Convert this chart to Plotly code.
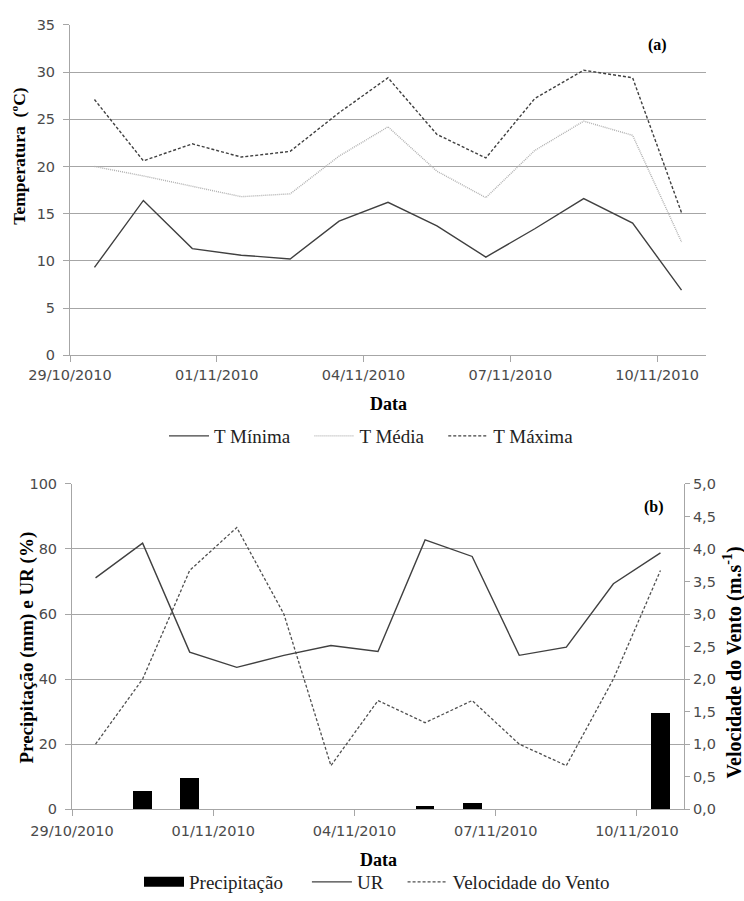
import plotly.graph_objects as go

W, H = 744, 901

# Daily observations, 29/10/2010 to 10/11/2010
dates = ["2010-10-29", "2010-10-30", "2010-10-31", "2010-11-01", "2010-11-02",
         "2010-11-03", "2010-11-04", "2010-11-05", "2010-11-06", "2010-11-07",
         "2010-11-08", "2010-11-09", "2010-11-10"]
t_min = [9.3, 16.4, 11.3, 10.6, 10.2, 14.2, 16.2, 13.7, 10.4, 13.4, 16.6, 14.0, 6.9]
t_med = [20.0, 19.0, 17.9, 16.8, 17.1, 21.1, 24.2, 19.5, 16.7, 21.7, 24.8, 23.3, 12.0]
t_max = [27.1, 20.6, 22.4, 21.0, 21.6, 25.7, 29.4, 23.4, 20.9, 27.2, 30.2, 29.4, 15.1]
precip = [0, 5.5, 9.6, 0, 0, 0, 0, 0.9, 2.0, 0, 0, 0, 29.7]
ur = [71.1, 81.8, 48.3, 43.6, 47.3, 50.3, 48.5, 82.8, 77.7, 47.3, 49.8, 69.3, 78.8]
wind = [1.0, 2.0, 3.67, 4.33, 3.0, 0.67, 1.67, 1.33, 1.67, 1.0, 0.67, 2.0, 3.67]

tick_dates = ["2010-10-29", "2010-11-01", "2010-11-04", "2010-11-07", "2010-11-10"]
x_range = ["2010-10-29", "2010-11-11"]

DAY_MS = 86400000
SERIF = "Liberation Serif"
SANS = "DejaVu Sans"
GRID = "#a6a6a6"
DARK = "#404040"
GAP = "\u00a0\u00a0\u00a0"   # extra room after each legend entry


def px_x(p):
    return p / W


def px_y(p):
    return 1 - p / H


period = dict(xperiod=DAY_MS, xperiodalignment="middle")

fig = go.Figure()

# (a) temperatures
fig.add_trace(go.Scatter(x=dates, y=t_min, name="T Mínima" + GAP, mode="lines",
                         line=dict(color=DARK, width=1.4),
                         xaxis="x", yaxis="y", legend="legend", **period))
fig.add_trace(go.Scatter(x=dates, y=t_med, name="T Média" + GAP, mode="lines",
                         line=dict(color="#b0b0b0", width=1.4, dash="1px,1px"),
                         xaxis="x", yaxis="y", legend="legend", **period))
fig.add_trace(go.Scatter(x=dates, y=t_max, name="T Máxima", mode="lines",
                         line=dict(color=DARK, width=1.4, dash="3px,2px"),
                         xaxis="x", yaxis="y", legend="legend", **period))

# (b) precipitation bars (legend key drawn as a wide black band)
fig.add_trace(go.Bar(x=dates, y=precip, name="Precipitação", showlegend=False,
                     marker=dict(color="black", line=dict(width=0)),
                     width=0.4 * DAY_MS,
                     xaxis="x2", yaxis="y2", **period))
fig.add_trace(go.Scatter(x=[None], y=[None], name="Precipitação" + GAP + "\u00a0",
                         mode="lines", line=dict(color="black", width=10),
                         xaxis="x2", yaxis="y2", legend="legend2"))
fig.add_trace(go.Scatter(x=dates, y=ur, name="UR" + GAP, mode="lines",
                         line=dict(color=DARK, width=1.4),
                         xaxis="x2", yaxis="y2", legend="legend2", **period))
fig.add_trace(go.Scatter(x=dates, y=wind, name="Velocidade do Vento", mode="lines",
                         line=dict(color="#505050", width=1.3, dash="3px,2px"),
                         xaxis="x2", yaxis="y3", legend="legend2", **period))

tick_font = dict(family=SANS, size=14.5, color="#4a4a4a")

x_common = dict(type="date", range=x_range, tickvals=tick_dates,
                tickformat="%d/%m/%Y", showgrid=False, showline=True,
                linecolor=GRID, linewidth=1, ticks="outside", ticklen=6,
                tickcolor=GRID, tickfont=tick_font, automargin=False)
y_common = dict(showgrid=True, gridcolor=GRID, gridwidth=1, zeroline=False,
                showline=True, linecolor=GRID, linewidth=1, ticks="outside",
                ticklen=6, tickcolor=GRID, tickfont=tick_font, automargin=False,
                ticklabelstandoff=5)

annotations = [
    dict(text="<b>Data</b>", x=px_x(388), y=px_y(405), size=18),
    dict(text="<b>Data</b>", x=px_x(378), y=px_y(862), size=18),
    dict(text="<b>(a)</b>", x=px_x(657), y=px_y(45), size=16),
    dict(text="<b>(b)</b>", x=px_x(654), y=px_y(508), size=16),
    dict(text="<b>Temperatura  (ºC)</b>", x=px_x(19), y=px_y(157), size=17.5,
         textangle=-90),
    dict(text="<b>Precipitação (mm) e UR (%)</b>", x=px_x(27), y=px_y(649),
         size=19, textangle=-90),
    dict(text="<b>Velocidade do Vento (m.s<sup>-1</sup>)</b>", x=px_x(733),
         y=px_y(664), size=20, textangle=-90),
]
for a in annotations:
    size = a.pop("size")
    a.update(xref="paper", yref="paper", showarrow=False,
             xanchor="center", yanchor="middle",
             font=dict(family=SERIF, size=size, color="black"))

legend_font = dict(family=SERIF, size=19, color="#222222")

fig.update_layout(
    template="none",
    width=W, height=H,
    margin=dict(l=0, r=0, t=0, b=0),
    paper_bgcolor="white", plot_bgcolor="white",
    separators=",.",
    font=dict(family=SERIF, size=16, color="#333333"),
    bargap=0,
    xaxis=dict(domain=[px_x(70), px_x(706)], anchor="y", ticklabelstandoff=0,
               **x_common),
    yaxis=dict(domain=[px_y(356), px_y(25)], anchor="x", range=[0, 35], dtick=5,
               **y_common),
    xaxis2=dict(domain=[px_x(72), px_x(684)], anchor="y2", ticklabelstandoff=2,
                **x_common),
    yaxis2=dict(domain=[px_y(811), px_y(485)], anchor="x2", range=[0, 100], dtick=20,
                **y_common),
    yaxis3=dict(overlaying="y2", side="right", anchor="x2", range=[0, 5], dtick=0.5,
                tickformat=".1f", showgrid=False, zeroline=False, showline=True,
                linecolor=GRID, linewidth=1, ticks="outside", ticklen=5,
                tickcolor=GRID, tickfont=tick_font, automargin=False),
    legend=dict(orientation="h", x=px_x(164), y=px_y(437), xanchor="left",
                yanchor="middle", font=legend_font, bgcolor="rgba(0,0,0,0)",
                itemwidth=40, tracegroupgap=0),
    legend2=dict(orientation="h", x=px_x(139), y=px_y(884), xanchor="left",
                 yanchor="middle", font=legend_font, bgcolor="rgba(0,0,0,0)",
                 itemwidth=40, tracegroupgap=0),
    annotations=annotations,
    showlegend=True,
)

fig.write_html("out.html")
